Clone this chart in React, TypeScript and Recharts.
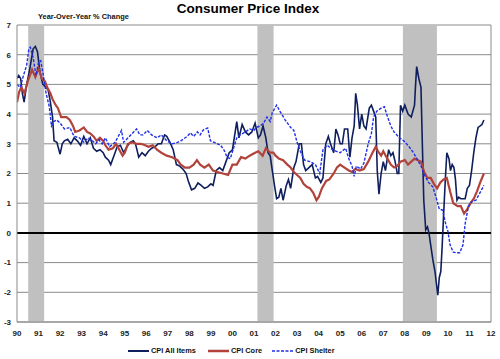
import React from 'react';
import { LineChart, Line, XAxis, YAxis, CartesianGrid, ReferenceArea, ReferenceLine } from 'recharts';

const FONT = '"Liberation Sans", Arial, sans-serif';

const yearTicks = [1990, 1991, 1992, 1993, 1994, 1995, 1996, 1997, 1998, 1999, 2000, 2001, 2002, 2003, 2004, 2005, 2006, 2007, 2008, 2009, 2010, 2011, 2012];
const valueTicks = [-3, -2, -1, 0, 1, 2, 3, 4, 5, 6, 7];
const recessionStarts = [1990.52, 2001.16, 2007.91];
const recessionEnds = [1991.26, 2001.91, 2009.49];

const allItemsT = [1990.0, 1990.08, 1990.17, 1990.25, 1990.33, 1990.45, 1990.6, 1990.75, 1990.85, 1990.95, 1991.07, 1991.2, 1991.35, 1991.45, 1991.55, 1991.65, 1991.72, 1991.85, 1992.0, 1992.1, 1992.2, 1992.35, 1992.5, 1992.65, 1992.8, 1992.95, 1993.1, 1993.25, 1993.4, 1993.55, 1993.7, 1993.85, 1994.0, 1994.1, 1994.25, 1994.35, 1994.5, 1994.65, 1994.8, 1994.95, 1995.1, 1995.25, 1995.4, 1995.5, 1995.65, 1995.8, 1995.95, 1996.1, 1996.25, 1996.4, 1996.55, 1996.7, 1996.85, 1996.95, 1997.1, 1997.25, 1997.4, 1997.55, 1997.7, 1997.85, 1997.95, 1998.1, 1998.25, 1998.4, 1998.55, 1998.7, 1998.85, 1999.0, 1999.1, 1999.25, 1999.4, 1999.55, 1999.7, 1999.85, 2000.0, 2000.2, 2000.3, 2000.45, 2000.6, 2000.75, 2000.9, 2001.05, 2001.2, 2001.3, 2001.42, 2001.55, 2001.65, 2001.75, 2001.85, 2001.95, 2002.05, 2002.15, 2002.25, 2002.35, 2002.5, 2002.6, 2002.7, 2002.85, 2002.95, 2003.1, 2003.2, 2003.3, 2003.4, 2003.55, 2003.7, 2003.85, 2003.95, 2004.1, 2004.2, 2004.33, 2004.45, 2004.55, 2004.7, 2004.8, 2004.9, 2005.0, 2005.1, 2005.2, 2005.35, 2005.45, 2005.55, 2005.65, 2005.72, 2005.8, 2005.9, 2006.0, 2006.1, 2006.2, 2006.35, 2006.45, 2006.55, 2006.65, 2006.72, 2006.8, 2006.9, 2007.0, 2007.1, 2007.25, 2007.35, 2007.45, 2007.55, 2007.65, 2007.72, 2007.8, 2007.9, 2008.0, 2008.15, 2008.3, 2008.45, 2008.5, 2008.55, 2008.65, 2008.75, 2008.82, 2008.88, 2008.97, 2009.05, 2009.12, 2009.2, 2009.3, 2009.4, 2009.53, 2009.6, 2009.67, 2009.73, 2009.8, 2009.88, 2009.95, 2010.05, 2010.12, 2010.2, 2010.28, 2010.35, 2010.42, 2010.5, 2010.6, 2010.7, 2010.8, 2010.9, 2011.0, 2011.1, 2011.2, 2011.3, 2011.4, 2011.5, 2011.58, 2011.67];
const allItemsV = [5.2, 5.3, 5.2, 4.7, 4.4, 5.0, 5.55, 6.2, 6.28, 6.1, 5.4, 5.0, 4.9, 4.8, 4.4, 3.9, 3.1, 3.05, 2.65, 3.0, 3.1, 3.15, 3.0, 3.2, 3.1, 2.95, 3.25, 3.0, 3.2, 2.85, 2.75, 2.8, 2.7, 2.55, 2.45, 2.3, 2.6, 2.9, 2.95, 2.7, 2.9, 3.05, 3.1, 3.0, 2.55, 2.7, 2.6, 2.75, 2.85, 2.9, 3.0, 3.0, 3.3, 3.25, 3.05, 2.8, 2.3, 2.25, 2.15, 2.0, 1.75, 1.45, 1.5, 1.68, 1.6, 1.5, 1.55, 1.65, 1.6, 2.1, 2.2, 2.1, 2.4, 2.7, 2.8, 3.75, 3.2, 3.65, 3.4, 3.3, 3.4, 3.7, 3.2, 3.3, 3.6, 3.2, 2.7, 2.6, 2.1, 1.6, 1.15, 1.2, 1.5, 1.1, 1.6, 1.8, 1.5, 2.2, 2.4, 3.0, 3.0, 2.3, 2.1, 2.2, 2.3, 1.85, 1.9, 1.7, 1.85, 3.0, 3.25, 3.0, 2.7, 3.5, 3.3, 3.0, 3.0, 3.5, 3.5, 2.55, 3.2, 3.6, 4.7, 4.3, 3.5, 4.0, 3.6, 3.5, 4.2, 4.3, 4.1, 3.9, 2.1, 1.3, 2.0, 2.4, 2.1, 2.8, 2.6, 2.7, 2.4, 2.0, 2.0, 4.3, 4.1, 4.3, 4.0, 3.9, 4.3, 5.0, 5.6, 5.2, 4.9, 2.8, 1.1, 0.1, 0.2, 0.0, -0.4, -0.9, -1.3, -2.1, -1.5, -1.3, -0.5, 0.6, 1.8, 2.7, 2.5, 2.1, 2.3, 2.2, 1.8, 1.1, 1.2, 1.15, 1.15, 1.15, 1.5, 1.6, 2.1, 2.7, 3.2, 3.55, 3.6, 3.65, 3.8];

const coreT = [1990.0, 1990.1, 1990.2, 1990.35, 1990.5, 1990.7, 1990.85, 1991.0, 1991.15, 1991.3, 1991.4, 1991.55, 1991.65, 1991.8, 1991.9, 1992.05, 1992.3, 1992.45, 1992.6, 1992.7, 1992.9, 1993.1, 1993.25, 1993.4, 1993.55, 1993.7, 1993.85, 1994.0, 1994.1, 1994.25, 1994.45, 1994.6, 1994.75, 1994.9, 1995.0, 1995.15, 1995.35, 1995.55, 1995.75, 1995.95, 1996.1, 1996.3, 1996.5, 1996.7, 1996.95, 1997.2, 1997.45, 1997.6, 1997.8, 1998.0, 1998.2, 1998.35, 1998.5, 1998.7, 1998.9, 1999.1, 1999.3, 1999.55, 1999.8, 2000.0, 2000.2, 2000.4, 2000.6, 2000.8, 2001.05, 2001.2, 2001.4, 2001.55, 2001.75, 2001.9, 2002.0, 2002.15, 2002.35, 2002.55, 2002.7, 2002.85, 2003.0, 2003.15, 2003.3, 2003.45, 2003.6, 2003.75, 2003.9, 2004.0, 2004.15, 2004.35, 2004.5, 2004.7, 2004.85, 2005.0, 2005.2, 2005.4, 2005.55, 2005.7, 2005.9, 2006.1, 2006.3, 2006.5, 2006.65, 2006.75, 2006.9, 2007.0, 2007.15, 2007.35, 2007.5, 2007.65, 2007.8, 2008.0, 2008.15, 2008.3, 2008.45, 2008.6, 2008.75, 2008.9, 2009.05, 2009.2, 2009.35, 2009.5, 2009.65, 2009.8, 2009.95, 2010.1, 2010.25, 2010.45, 2010.6, 2010.75, 2010.9, 2011.05, 2011.2, 2011.35, 2011.5, 2011.67];
const coreV = [4.4, 4.75, 4.9, 4.7, 5.1, 5.5, 5.25, 5.55, 5.2, 5.1, 4.9, 4.7, 4.5, 4.3, 4.2, 3.9, 3.9, 3.8, 3.6, 3.4, 3.45, 3.55, 3.4, 3.35, 3.25, 3.1, 3.2, 3.1, 2.95, 2.8, 2.85, 3.0, 2.8, 2.6, 2.7, 3.0, 3.05, 3.0, 3.0, 2.95, 2.9, 2.95, 2.8, 2.7, 2.6, 2.55, 2.45, 2.3, 2.2, 2.2, 2.3, 2.45, 2.3, 2.2, 2.3, 2.1, 2.05, 2.0, 1.95, 2.3, 2.3, 2.55, 2.5, 2.6, 2.7, 2.75, 2.6, 2.85, 2.7, 2.7, 2.6, 2.5, 2.45, 2.3, 2.2, 2.05, 1.95, 1.85, 1.65, 1.55, 1.5, 1.35, 1.1, 1.2, 1.5, 1.75, 1.8, 2.0, 2.2, 2.3, 2.2, 2.1, 2.05, 2.15, 2.1, 2.15, 2.4, 2.7, 2.9, 2.75, 2.6, 2.75, 2.55, 2.3, 2.2, 2.25, 2.4, 2.45, 2.3, 2.4, 2.5, 2.45, 2.4, 2.05, 1.85, 1.85, 1.65, 1.5, 1.7, 1.8, 1.85, 1.4, 1.0, 0.9, 0.9, 0.65, 0.8, 1.0, 1.15, 1.4, 1.7, 2.0];

const shelterT = [1990.0, 1990.15, 1990.3, 1990.45, 1990.55, 1990.62, 1990.75, 1990.88, 1991.0, 1991.1, 1991.2, 1991.35, 1991.5, 1991.6, 1991.7, 1991.85, 1992.0, 1992.2, 1992.45, 1992.65, 1992.9, 1993.1, 1993.3, 1993.5, 1993.65, 1993.8, 1993.95, 1994.1, 1994.3, 1994.55, 1994.7, 1994.85, 1994.95, 1995.15, 1995.35, 1995.55, 1995.7, 1995.85, 1996.05, 1996.25, 1996.5, 1996.7, 1996.95, 1997.2, 1997.45, 1997.6, 1997.9, 1998.05, 1998.2, 1998.37, 1998.5, 1998.65, 1998.85, 1998.98, 1999.15, 1999.3, 1999.45, 1999.6, 1999.75, 1999.9, 2000.05, 2000.2, 2000.35, 2000.6, 2000.8, 2001.0, 2001.1, 2001.3, 2001.45, 2001.6, 2001.75, 2001.85, 2002.05, 2002.2, 2002.45, 2002.7, 2002.85, 2003.0, 2003.15, 2003.35, 2003.6, 2003.85, 2004.05, 2004.2, 2004.4, 2004.55, 2004.8, 2005.0, 2005.25, 2005.4, 2005.55, 2005.65, 2005.75, 2005.95, 2006.1, 2006.3, 2006.45, 2006.55, 2006.7, 2006.9, 2007.05, 2007.2, 2007.35, 2007.5, 2007.75, 2007.95, 2008.2, 2008.4, 2008.6, 2008.75, 2008.95, 2009.1, 2009.3, 2009.45, 2009.6, 2009.75, 2009.9, 2010.0, 2010.1, 2010.25, 2010.4, 2010.55, 2010.7, 2010.8, 2010.95, 2011.1, 2011.3, 2011.45, 2011.67];
const shelterV = [5.0, 4.9, 5.3, 5.65, 6.2, 6.25, 5.9, 5.3, 5.75, 5.8, 5.4, 4.7, 4.25, 3.6, 3.75, 3.8, 3.7, 3.5, 3.55, 3.25, 3.2, 3.05, 3.2, 3.1, 3.0, 3.13, 3.0, 3.2, 2.9, 3.05, 3.25, 3.45, 3.05, 3.2, 3.35, 3.5, 3.3, 3.3, 3.45, 3.3, 3.2, 3.3, 3.1, 3.0, 3.05, 3.1, 3.25, 3.37, 3.25, 3.4, 3.3, 3.47, 3.53, 3.1, 3.05, 3.0, 2.95, 2.8, 2.55, 2.5, 2.85, 3.2, 3.3, 3.4, 3.5, 3.45, 3.55, 3.6, 3.7, 3.9, 3.75, 4.05, 4.3, 4.1, 3.8, 3.55, 3.45, 3.05, 2.75, 2.45, 2.4, 2.3, 2.0, 2.8, 2.95, 2.85, 2.75, 2.7, 2.85, 2.5, 2.25, 1.9, 2.25, 2.15, 2.35, 3.0, 3.35, 3.9, 4.1, 4.2, 4.25, 3.9, 3.6, 3.4, 3.2, 3.1, 2.9, 2.7, 2.45, 2.25, 1.9, 1.7, 1.55, 1.2, 0.8, 0.77, 0.3, 0.05, -0.4, -0.65, -0.67, -0.67, -0.4, 0.3, 0.9, 1.05, 1.1, 1.3, 1.6];

const allItemsData = allItemsT.map((t, i) => ({ t, v: allItemsV[i] }));
const coreData = coreT.map((t, i) => ({ t, v: coreV[i] }));
const shelterData = shelterT.map((t, i) => ({ t, v: shelterV[i] }));

const NAVY = '#0f1f5e';
const RED = '#b2433b';
const BLUE = '#1f2fe8';
const GRID = '#8a8a8a';

const tickStyle = { fontSize: 8, fontWeight: 'bold' as const, fill: '#222', fontFamily: FONT };

const legendItems = [
  { label: 'CPI All Items', color: NAVY, dash: undefined as string | undefined, width: 2 },
  { label: 'CPI Core', color: RED, dash: undefined as string | undefined, width: 2.5 },
  { label: 'CPI Shelter', color: BLUE, dash: '3 1.5', width: 1.5 },
];

export default function App() {
  return (
    <div style={{ position: 'absolute', left: 0, top: 0, width: 500, height: 359, background: '#fff', fontFamily: FONT }}>
      <div style={{ position: 'absolute', left: 0, width: 496, top: 0, textAlign: 'center', fontSize: 13.5, fontWeight: 'bold', color: '#000', lineHeight: '17px' }}>
        Consumer Price Index
      </div>
      <div style={{ position: 'absolute', left: 38, top: 12, fontSize: 7.4, fontWeight: 'bold', color: '#111', lineHeight: '10px' }}>
        Year-Over-Year % Change
      </div>
      <LineChart width={500} height={359} margin={{ top: 25, right: 9, bottom: 23, left: 0 }}>
        <CartesianGrid horizontal={true} vertical={false} stroke={GRID} strokeWidth={1} />
        <XAxis
          type="number"
          dataKey="t"
          domain={[1990, 2012]}
          ticks={yearTicks}
          allowDataOverflow
          tickFormatter={(y: number) => String(y % 100).padStart(2, '0')}
          tick={tickStyle}
          tickLine={false}
          tickSize={0}
          tickMargin={8}
          axisLine={{ stroke: GRID }}
          height={14}
          interval={0}
        />
        <YAxis
          type="number"
          domain={[-3, 7]}
          ticks={valueTicks}
          allowDataOverflow
          tick={tickStyle}
          tickLine={false}
          tickSize={0}
          tickMargin={6}
          axisLine={{ stroke: GRID }}
          width={17}
          interval={0}
        />
        {recessionStarts.map((s, i) => (
          <ReferenceArea key={i} x1={s} x2={recessionEnds[i]} y1={-3} y2={7} fill="#c0c0c0" fillOpacity={1} stroke="none" />
        ))}
        <ReferenceLine x={2012} stroke={GRID} strokeWidth={1} />
        <ReferenceLine y={0} stroke="#000" strokeWidth={2} />
        <Line data={allItemsData} dataKey="v" type="linear" stroke={NAVY} strokeWidth={1.6} dot={false} isAnimationActive={false} />
        <Line data={coreData} dataKey="v" type="linear" stroke={RED} strokeWidth={2.2} dot={false} isAnimationActive={false} />
        <Line data={shelterData} dataKey="v" type="linear" stroke={BLUE} strokeWidth={1.4} strokeDasharray="3 1.5" dot={false} isAnimationActive={false} />
      </LineChart>
      <div style={{ position: 'absolute', left: 128, top: 346, display: 'flex', alignItems: 'center', fontSize: 7.4, fontWeight: 'bold', color: '#111', lineHeight: '10px' }}>
        {legendItems.map((it, i) => (
          <div key={i} style={{ display: 'flex', alignItems: 'center', marginRight: i === 0 ? 12 : 10 }}>
            <svg width={21} height={6} style={{ marginRight: 2 }}>
              <line x1={0} y1={3} x2={21} y2={3} stroke={it.color} strokeWidth={it.width} strokeDasharray={it.dash} />
            </svg>
            <span>{it.label}</span>
          </div>
        ))}
      </div>
    </div>
  );
}
